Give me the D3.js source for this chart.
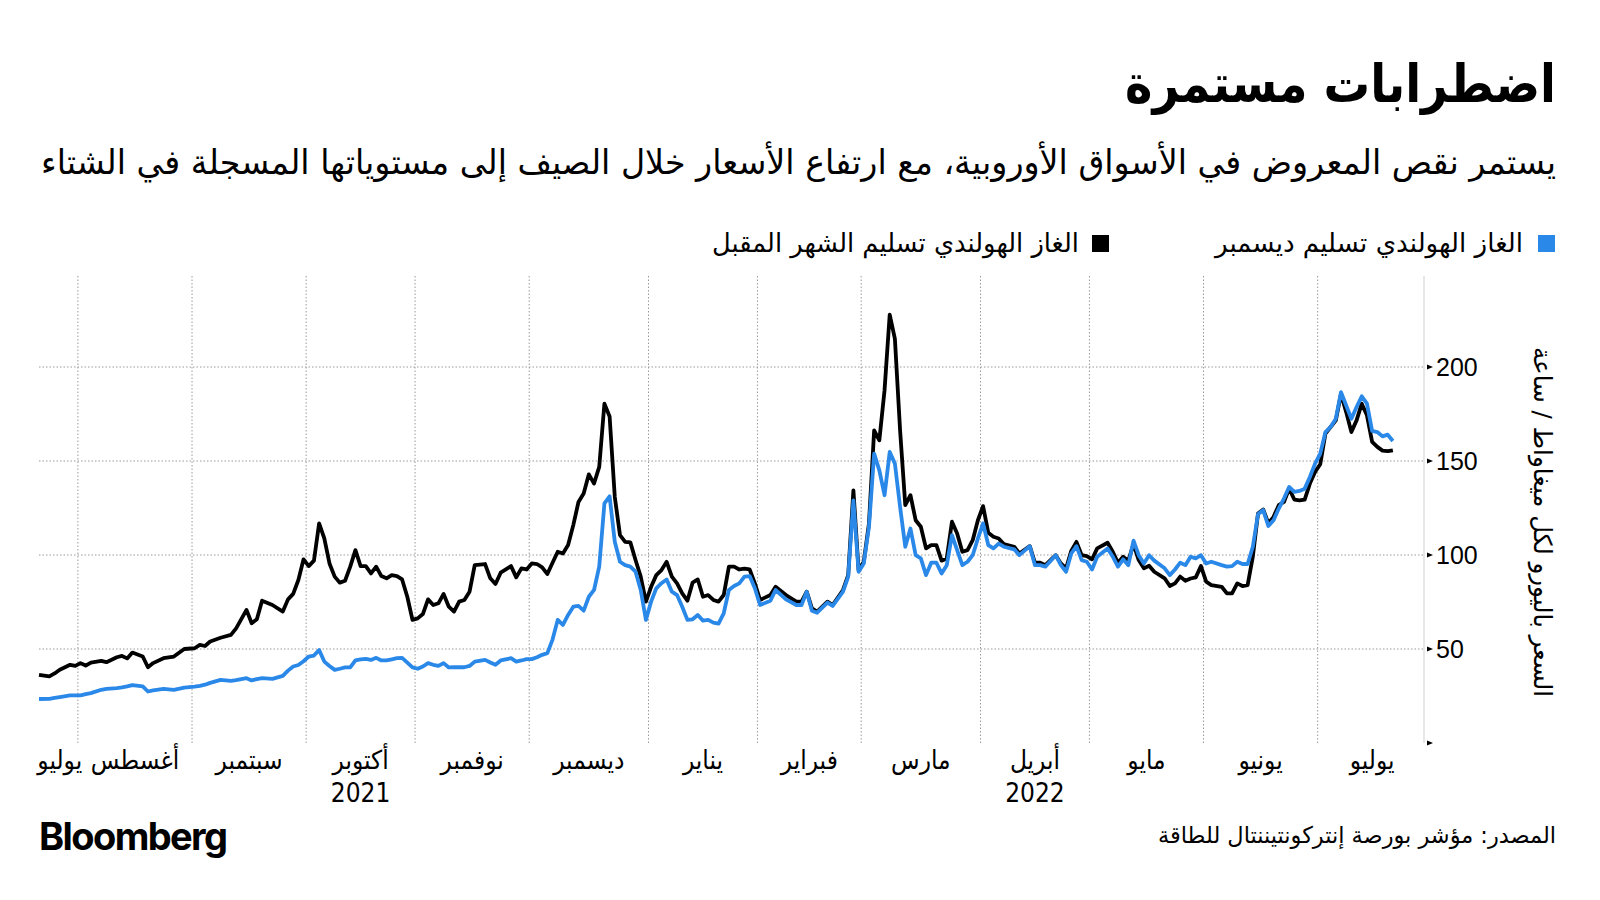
<!DOCTYPE html>
<html><head><meta charset="utf-8">
<script src="https://cdn.jsdelivr.net/npm/d3@7"></script>
<style>
body{margin:0;background:#fff}
svg{display:block}
.ar{font-family:"DejaVu Sans Condensed","DejaVu Sans",sans-serif}
.num{font-family:"Liberation Sans",Arial,sans-serif}
</style>
</head><body>
<svg id="chart" width="1600" height="900"></svg>
<script>
// ---------------- DATA ----------------
const title = "اضطرابات مستمرة";
const subtitle = "يستمر نقص المعروض في الأسواق الأوروبية، مع ارتفاع الأسعار خلال الصيف إلى مستوياتها المسجلة في الشتاء";
const seriesNames = ["الغاز الهولندي تسليم ديسمبر", "الغاز الهولندي تسليم الشهر المقبل"];
const yAxisTitle = "السعر باليورو لكل ميغاواط / ساعة";
const sourceText = "المصدر: مؤشر بورصة إنتركونتيننتال للطاقة";

const startDate = "2021-07-22";
const endDomainDate = "2022-07-30";

const dates = [
"2021-07-22","2021-07-26","2021-07-27","2021-07-28","2021-07-30","2021-08-02","2021-08-03","2021-08-04","2021-08-05","2021-08-09",
"2021-08-10","2021-08-12","2021-08-13","2021-08-16","2021-08-17","2021-08-19","2021-08-20","2021-08-23","2021-08-25","2021-08-27",
"2021-08-31","2021-09-02","2021-09-03","2021-09-06","2021-09-07","2021-09-09","2021-09-13","2021-09-14","2021-09-16","2021-09-17",
"2021-09-20","2021-09-21","2021-09-23","2021-09-27","2021-09-28","2021-09-29","2021-09-30","2021-10-01","2021-10-04","2021-10-05",
"2021-10-06","2021-10-07","2021-10-08","2021-10-11","2021-10-12","2021-10-13","2021-10-14","2021-10-15","2021-10-18","2021-10-19",
"2021-10-20","2021-10-21","2021-10-22","2021-10-25","2021-10-26","2021-10-27","2021-10-28","2021-10-29","2021-11-01","2021-11-02",
"2021-11-03","2021-11-04","2021-11-05","2021-11-08","2021-11-09","2021-11-10","2021-11-11","2021-11-12","2021-11-15","2021-11-16",
"2021-11-17","2021-11-19","2021-11-22","2021-11-23","2021-11-24","2021-11-26","2021-11-29","2021-11-30","2021-12-01","2021-12-02",
"2021-12-03","2021-12-06","2021-12-07","2021-12-08","2021-12-09","2021-12-10","2021-12-13","2021-12-14","2021-12-15","2021-12-16",
"2021-12-17","2021-12-20","2021-12-21","2021-12-22","2021-12-23","2021-12-24","2021-12-27","2021-12-28","2021-12-29","2021-12-30",
"2021-12-31","2022-01-03","2022-01-04","2022-01-05","2022-01-06","2022-01-07","2022-01-10","2022-01-11","2022-01-12","2022-01-13",
"2022-01-14","2022-01-17","2022-01-18","2022-01-19","2022-01-20","2022-01-21","2022-01-24","2022-01-25","2022-01-26","2022-01-27",
"2022-01-28","2022-01-31","2022-02-01","2022-02-02","2022-02-04","2022-02-07","2022-02-09","2022-02-11","2022-02-14","2022-02-15",
"2022-02-16","2022-02-17","2022-02-21","2022-02-22","2022-02-24","2022-02-25","2022-02-28","2022-03-01","2022-03-02","2022-03-03",
"2022-03-04","2022-03-07","2022-03-08","2022-03-09","2022-03-10","2022-03-11","2022-03-14","2022-03-15","2022-03-16","2022-03-17",
"2022-03-18","2022-03-21","2022-03-22","2022-03-23","2022-03-24","2022-03-25","2022-03-28","2022-03-29","2022-03-30","2022-03-31",
"2022-04-01","2022-04-04","2022-04-05","2022-04-06","2022-04-07","2022-04-08","2022-04-12","2022-04-13","2022-04-15","2022-04-18",
"2022-04-19","2022-04-20","2022-04-22","2022-04-25","2022-04-26","2022-04-27","2022-04-28","2022-04-29","2022-05-02","2022-05-03",
"2022-05-04","2022-05-06","2022-05-09","2022-05-10","2022-05-11","2022-05-12","2022-05-13","2022-05-16","2022-05-17","2022-05-18",
"2022-05-19","2022-05-23","2022-05-24","2022-05-25","2022-05-26","2022-05-27","2022-05-30","2022-05-31","2022-06-01","2022-06-02",
"2022-06-03","2022-06-07","2022-06-08","2022-06-09","2022-06-10","2022-06-13","2022-06-14","2022-06-15","2022-06-16","2022-06-17",
"2022-06-20","2022-06-21","2022-06-22","2022-06-23","2022-06-24","2022-06-27","2022-06-28","2022-06-29","2022-06-30","2022-07-01",
"2022-07-04","2022-07-05","2022-07-06","2022-07-07","2022-07-08","2022-07-11","2022-07-12","2022-07-13","2022-07-14","2022-07-15",
"2022-07-18","2022-07-19","2022-07-20","2022-07-21","2022-07-22"
];

// Next-month delivery (black)
const frontMonthValues = [
36.3,35.4,37,39,41.6,41,42.5,41.2,42.8,43.7,
43,45.6,46.3,45,48.1,46,40.3,42.5,45.1,46,
50,50.4,52.2,51.6,54,56,57.5,61,70.8,63.7,
65.8,75.7,73.4,69.9,76.4,79.3,86.7,97.7,94.1,97,
116.8,108.8,95.5,88.5,85.3,86.3,93.8,102.6,94.1,94.1,
90.2,93.8,88.8,87.6,89.3,88.8,87,77.8,65.5,66.3,
68.6,76.4,73.4,74.3,79.3,72.5,69.9,75.2,76.1,80.5,
94.6,95.2,87.6,84.6,90.6,94.1,88.1,92.9,92.3,95.5,
95.2,93.4,89.9,95.9,101.7,100.8,105.3,115.9,128.2,132.7,
142.9,138,146.9,180.5,173.7,130.9,110.6,107,106.7,97.3,
88.5,75.2,83.1,89.3,92,96.4,88.5,84.9,79.6,75.7,
85.3,87,77.8,78.7,76.1,75.2,78.7,93.8,93.8,92.3,
92.7,92.3,84.9,76.1,78.7,83.1,78.7,75.2,75.2,80.5,
71.6,69.9,75.2,73.4,81.4,89.3,134.4,92,96.4,116.8,
166.3,161,187.5,227.9,215,166.3,126.5,131.8,118.5,115,
103.5,105.3,105.3,97,98.2,117.7,111.4,101.7,102.6,107.9,
118.5,126,111.8,109.7,108.8,105.8,104.4,100.8,104.7,95.9,
95.9,94.6,99.9,95.5,92.9,102.2,107,99.9,99.4,97.7,
103.5,106.5,101.7,95.9,99.1,97,105.8,97.3,92.9,94.3,
91.1,87.6,83.5,84.9,88.5,86.3,87.5,88.1,94.1,85.8,
84,83.1,79.6,79.6,84.9,83.5,84,99.1,122.1,124.2,
116.8,120.3,126.5,128.2,135.3,129.5,129.1,129.5,138,144.2,
148.3,164.6,168.1,171.6,185.7,176,165.4,171.6,180.5,174.3,
160.2,157.5,155.5,155.2,155.7
];

// December delivery (blue)
const decemberValues = [
23.4,23.5,24,24.4,25.3,25.3,25.3,26,26.5,28.3,
28.8,29.2,29.6,30.1,30.8,30.1,27.4,28,28.8,28.3,
29.5,30,30.4,31,32,33.6,33.1,33.5,34.5,33.3,
34,34.5,34.1,35.7,38.5,40.7,41.5,43.5,46,46.5,
49.5,43.3,41,38.9,39.5,40.2,40.2,43.9,44.5,44.8,
44.2,45.3,43.9,43.9,44.5,45.1,45.3,42.8,40.2,39.5,
40.7,42.5,41.6,41,42.5,40.2,40.3,40.3,40.3,41,
43.3,44.2,42.8,41.6,43.9,45.1,43.3,43.9,44.6,44.6,
45.6,46.9,47.8,55,65.5,62.8,68.1,72.5,72.9,70.4,
77.8,81.4,93.8,127.4,131.2,107,96.4,94.6,93.8,91.1,
81.4,65.5,75.2,82.3,85,87,80.5,78.7,72.5,65.5,
65.8,68.1,65.1,65.5,64,63.5,69,81.4,83.5,84.9,
88.5,88.8,82.3,73.4,75.7,81.4,76.4,73.4,73.4,80.5,
70.4,69.3,74.7,72.9,80.5,88.5,129.1,91.1,95.5,115,
153.9,145,131.8,154.8,148.6,125.6,104.4,114.1,99.9,98.2,
89.3,95.9,95.9,90.2,94.6,110.6,102.6,94.6,96.4,99.9,
108.8,116.8,105.3,103.5,106.1,104.4,103,99.9,104.7,94.6,
94.6,93.8,99.9,94.6,91.1,100.8,104.7,97.3,96.4,92.3,
99.1,103.5,99.1,93.8,97.7,94.6,107.6,99.9,95.5,99.9,
97,92.9,89.3,92.3,95.9,94.6,99.1,98.2,99.9,95.5,
96.4,94.6,93.8,94.1,96.4,95.2,95.2,104.4,121.7,123.9,
115.4,118.5,124.7,130,136.2,133.6,134.1,135.3,141.5,148.6,
153.9,165.4,168.1,172.5,186.6,179.5,172.5,178.7,184.4,180.5,
166,165.4,163.1,164,160.6
];

const monthStarts = ["2021-07-22","2021-08-01","2021-09-01","2021-10-01","2021-11-01","2021-12-01","2022-01-01",
  "2022-02-01","2022-03-01","2022-04-01","2022-05-01","2022-06-01","2022-07-01"];
const monthLabels = ["يوليو","أغسطس","سبتمبر","أكتوبر","نوفمبر","ديسمبر","يناير","فبراير","مارس","أبريل","مايو","يونيو","يوليو"];
const yearLabels = [{month: 3, label: "2021"}, {month: 9, label: "2022"}];
const yTicks = [0, 50, 100, 150, 200];
const yDomain = [0, 250];

const colors = {dec: "#2a88e8", front: "#000000", grid: "#9a9a9a", axis: "#cfcfcf"};

// ---------------- HELPERS ----------------
const parse = d3.timeParse("%Y-%m-%d");
const t0 = parse(startDate);
// trading-day (weekday) index from the first date
function tradeIndex(d) {
  return d3.timeDays(t0, d).filter(x => x.getDay() !== 0 && x.getDay() !== 6).length;
}

const svg = d3.select("#chart");
const plot = {left: 39, right: 1424, top: 273, bottom: 743};

const x = d3.scaleLinear().domain([0, tradeIndex(parse(endDomainDate))]).range([plot.left, plot.right]);
const y = d3.scaleLinear().domain(yDomain).range([plot.bottom, plot.top]);

const pts = dates.map((d, i) => ({t: tradeIndex(parse(d)), front: frontMonthValues[i], dec: decemberValues[i]}));

function arText(sel, opts) {
  const t = sel.append("text").attr("class", "ar").attr("x", opts.x).attr("y", opts.y)
    .attr("text-anchor", opts.anchor || "end").attr("font-size", opts.size).attr("fill", "#000").text(opts.text);
  if (opts.bold) t.attr("font-weight", "bold");
  if (opts.len) t.attr("textLength", opts.len).attr("lengthAdjust", "spacingAndGlyphs");
  if (opts.transform) t.attr("transform", opts.transform);
  return t;
}

// ---------------- TITLES ----------------
arText(svg, {x: 1556, y: 102, size: 53, bold: true, text: title, len: 431});
arText(svg, {x: 1556, y: 174, size: 34, text: subtitle, len: 1515});

// legend
const legend = [
  {name: seriesNames[0], color: colors.dec, sq: 1538, tx: 1523, len: 308},
  {name: seriesNames[1], color: colors.front, sq: 1092, tx: 1079, len: 367}
];
legend.forEach(l => {
  svg.append("rect").attr("x", l.sq).attr("y", 235).attr("width", 17).attr("height", 17).attr("fill", l.color);
  arText(svg, {x: l.tx, y: 252, size: 26, text: l.name, len: l.len});
});

// ---------------- GRID ----------------
const monthIdx = monthStarts.map(d => tradeIndex(parse(d)));
const g = svg.append("g");
// month gridlines sit half a trading day after the month's first session
g.selectAll("line.vg").data(monthIdx.slice(1)).join("line").attr("class","vg")
  .attr("x1", d => x(d + 0.5)).attr("x2", d => x(d + 0.5)).attr("y1", plot.top + 3).attr("y2", plot.bottom)
  .attr("stroke", colors.grid).attr("stroke-width", 1).attr("stroke-dasharray", "1.5,2");
g.selectAll("line.hg").data(yTicks.filter(v => v > 0)).join("line").attr("class","hg")
  .attr("x1", plot.left).attr("x2", plot.right).attr("y1", d => y(d)).attr("y2", d => y(d))
  .attr("stroke", colors.grid).attr("stroke-width", 1).attr("stroke-dasharray", "1.5,2");
g.append("line").attr("x1", plot.right).attr("x2", plot.right).attr("y1", plot.top + 3).attr("y2", plot.bottom)
  .attr("stroke", colors.axis).attr("stroke-width", 1);

// y ticks (triangles) and labels
const yt = svg.append("g");
yTicks.forEach(v => {
  const yy = y(v);
  yt.append("path").attr("d", `M${plot.right+3},${yy-2.5}L${plot.right+9},${yy}L${plot.right+3},${yy+2.5}Z`).attr("fill","#000");
  if (v > 0) yt.append("text").attr("class","num").attr("x", plot.right + 12).attr("y", yy)
    .attr("dy","0.36em").attr("font-size",25).attr("fill","#000").text(v);
});
arText(svg, {x: 0, y: 0, size: 25, text: yAxisTitle, len: 350, anchor: "middle",
  transform: "translate(1534,522) rotate(90)"});

// month labels at the middle of each month span
const bounds = monthIdx.concat([x.domain()[1]]);
monthLabels.forEach((m, i) => {
  const cx = x((bounds[i] + bounds[i+1]) / 2 + 0.5);
  arText(svg, {x: cx, y: 769, size: 26, text: m, anchor: "middle"});
});
yearLabels.forEach(yl => {
  const cx = x((bounds[yl.month] + bounds[yl.month+1]) / 2 + 0.5);
  arText(svg, {x: cx, y: 802, size: 26, text: yl.label, anchor: "middle"});
});

// ---------------- LINES ----------------
const lineFront = d3.line().x(d => x(d.t)).y(d => y(d.front));
const lineDec = d3.line().x(d => x(d.t)).y(d => y(d.dec));
svg.append("path").datum(pts).attr("d", lineFront).attr("fill","none").attr("stroke", colors.front)
  .attr("stroke-width", 3.8).attr("stroke-linejoin","round");
svg.append("path").datum(pts).attr("d", lineDec).attr("fill","none").attr("stroke", colors.dec)
  .attr("stroke-width", 3.8).attr("stroke-linejoin","round");

// ---------------- FOOTER ----------------
arText(svg, {x: 1556, y: 843, size: 23, text: sourceText, len: 398});
svg.append("text").attr("x",39).attr("y",850).attr("font-family","Inter, Roboto, sans-serif")
  .attr("font-size",38).attr("font-weight","bold").attr("letter-spacing","-1.6").attr("fill","#000").text("Bloomberg");
</script>
</body></html>
